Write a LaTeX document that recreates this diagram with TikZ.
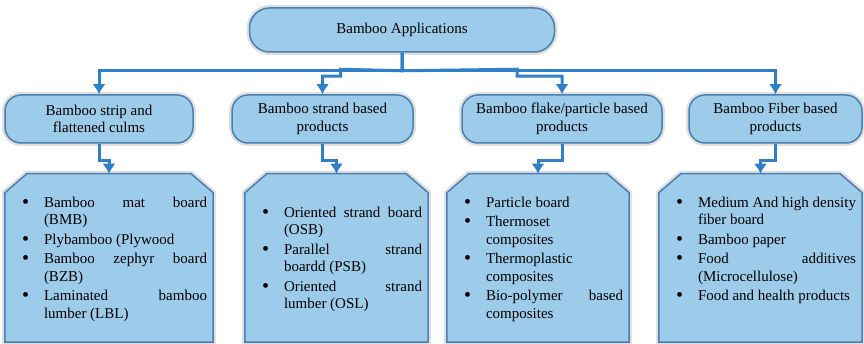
\documentclass[tikz,border=0pt]{standalone}
\usepackage{fontspec}
\setmainfont{Liberation Serif}
\usetikzlibrary{arrows.meta,positioning,calc,backgrounds}

\definecolor{boxfill}{HTML}{9DCBEA}
\definecolor{boxline}{HTML}{4A7FAF}
\definecolor{linkblue}{HTML}{2F80C8}

\newcommand{\bitem}[1]{\par\noindent\leftskip=11pt\hangindent=22pt\hangafter=1%
  \makebox[22pt][l]{\raisebox{-1pt}{\fontsize{20}{0}\selectfont\textbullet}}#1\par\vspace{2pt}}
\newcommand{\toplist}[2]{\begin{minipage}[c][168pt][t]{\linewidth}\vspace*{#1}#2\end{minipage}}

\begin{document}
\begin{tikzpicture}[x=1pt,y=1pt,->,>={Latex[length=10pt,width=13pt]},
  link/.style={draw=linkblue,line width=3pt},
  box/.style={fill=boxfill,draw=boxline,line width=1.5pt,
    preaction={draw=black!12,line width=6pt}},
  head node/.style={box,rounded corners=20pt,minimum width=305pt,minimum height=44pt,
    font=\fontsize{15}{17.5}\selectfont},
  group node/.style={box,rounded corners=16pt,minimum height=48pt,align=center,inner sep=2pt,
    font=\fontsize{15}{17.5}\selectfont},
  list node/.style={minimum height=168pt,inner xsep=6pt,inner ysep=0pt,align=justify,
    font=\fontsize{15}{17.5}\selectfont}]

  \useasboundingbox (0,0) rectangle (864,343);

  \node[head node] (apps) at (402,313) {Bamboo Applications};

  \node[group node,minimum width=188pt] (strip) at (99,224) {Bamboo strip and\\flattened culms};
  \node[group node,minimum width=181pt] (strand) at (322.5,224) {Bamboo strand based\\products};
  \node[group node,minimum width=200pt] (flake) at (562,224) {Bamboo flake/particle based\\products};
  \node[group node,minimum width=173pt] (fiber) at (775.5,224) {Bamboo Fiber based\\products};

  \node[list node,text width=196pt,below=30pt of strip,xshift=10pt] (striplist) {\toplist{23pt}{%
    \bitem{Bamboo mat board\linebreak (BMB)}
    \bitem{Plybamboo (Plywood}
    \bitem{Bamboo zephyr board\linebreak (BZB)}
    \bitem{Laminated bamboo\linebreak lumber (LBL)}}};
  \node[list node,text width=171pt,below=30pt of strand,xshift=14pt] (strandlist) {\toplist{33pt}{%
    \bitem{Oriented strand board\linebreak (OSB)}
    \bitem{Parallel strand\linebreak boardd (PSB)}
    \bitem{Oriented strand\linebreak lumber (OSL)}}};
  \node[list node,text width=170pt,below=30pt of flake,xshift=-24pt] (flakelist) {\toplist{23pt}{%
    \bitem{Particle board}
    \bitem{Thermoset\newline composites}
    \bitem{Thermoplastic\newline composites}
    \bitem{Bio-polymer based\linebreak composites}}};
  \node[list node,text width=191pt,below=30pt of fiber,xshift=-15pt] (fiberlist) {\toplist{23pt}{%
    \bitem{Medium And high density\linebreak fiber board}
    \bitem{Bamboo paper}
    \bitem{Food additives\linebreak (Microcellulose)}
    \bitem{Food and health products}}};

  % snipped frames behind the lists
  \begin{scope}[on background layer,-]
    \foreach \n in {striplist,strandlist,flakelist,fiberlist}
      \path[box] ($(\n.north west)+(0,-19)$) -- ($(\n.north west)+(22,0)$)
        -- ($(\n.north east)+(-22,0)$) -- ($(\n.north east)+(0,-19)$)
        -- (\n.south east) -- (\n.south west) -- cycle;
  \end{scope}

  % top level to groups
  \draw[link] (apps.south) -- ++(0,-18) -| (strip);
  \draw[link] (apps.south) -- ++(0,-18) -- ($(strand.north)+(18,25)$) -- ++(0,-7) -| (strand);
  \draw[link] (apps.south) -- ++(0,-18) -- ($(flake.north)+(-45,25)$) -- ++(0,-7) -| (flake);
  \draw[link] (apps.south) -- ++(0,-18) -| (fiber);

  % groups to lists
  \draw[link] (strip.south) -- ++(0,-17) -| (striplist);
  \draw[link] (strand.south) -- ++(0,-17) -| (strandlist);
  \draw[link] (flake.south) -- ++(0,-17) -| (flakelist);
  \draw[link] (fiber.south) -- ++(0,-17) -| (fiberlist);
\end{tikzpicture}
\end{document}
